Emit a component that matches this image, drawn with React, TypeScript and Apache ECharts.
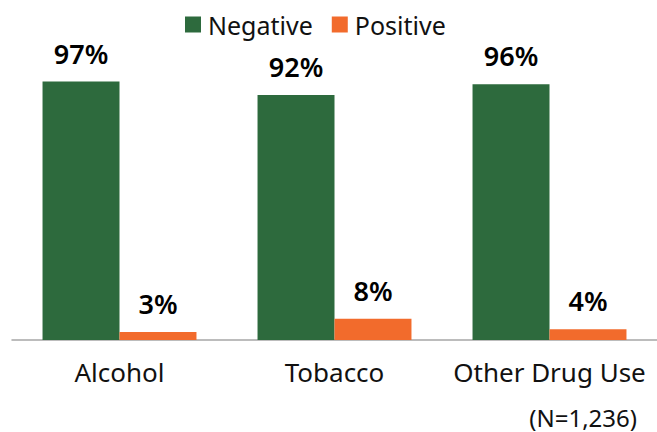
import React, { useEffect, useRef } from "react";
import * as echarts from "echarts";

const categories = ["Alcohol", "Tobacco", "Other Drug Use"];
const negative = [97, 92, 96];
const positive = [3, 8, 4];
const note = "(N=1,236)";

const FONT = "'Noto Sans', sans-serif";

export default function App() {
  const ref = useRef<HTMLDivElement>(null);
  useEffect(() => {
    document.body.style.margin = "0";
    const chart = echarts.init(ref.current!, null, { renderer: "svg" });
    const label = {
      show: true,
      position: "top" as const,
      distance: 15,
      formatter: (p: any) => p.value + "%",
      fontFamily: FONT,
      fontSize: 27,
      fontWeight: 600,
      color: "#000",
    };
    chart.setOption({
      animation: false,
      legend: {
        top: 7,
        left: 180,
        itemWidth: 16,
        itemHeight: 16,
        itemGap: 19,
        icon: "rect",
        textStyle: { fontFamily: FONT, fontSize: 25, color: "#111", padding: [0, 0, 0, 2] },
        data: ["Negative", "Positive"],
      },
      grid: { left: 12, right: 0, top: 73.6, bottom: 92, containLabel: false },
      xAxis: {
        type: "category",
        data: categories,
        axisLine: { lineStyle: { color: "#A6A6A6", width: 1.5 } },
        axisTick: { show: false },
        axisLabel: { interval: 0, fontFamily: FONT, fontSize: 26, color: "#111", margin: 19 },
      },
      yAxis: { type: "value", min: 0, max: 100, show: false, splitLine: { show: false } },
      series: [
        {
          name: "Negative",
          type: "bar",
          data: negative,
          itemStyle: { color: "#2D6A3D" },
          barGap: "0%",
          barCategoryGap: "28.4%",
          label,
        },
        {
          name: "Positive",
          type: "bar",
          data: positive,
          itemStyle: { color: "#F26B2C" },
          label,
        },
      ],
      graphic: [
        {
          type: "text",
          right: 20,
          top: 405,
          style: { text: note, fontFamily: FONT, fontSize: 24, fill: "#111" },
        },
      ],
    });
    return () => chart.dispose();
  }, []);
  return <div ref={ref} style={{ width: 657, height: 432 }} />;
}
